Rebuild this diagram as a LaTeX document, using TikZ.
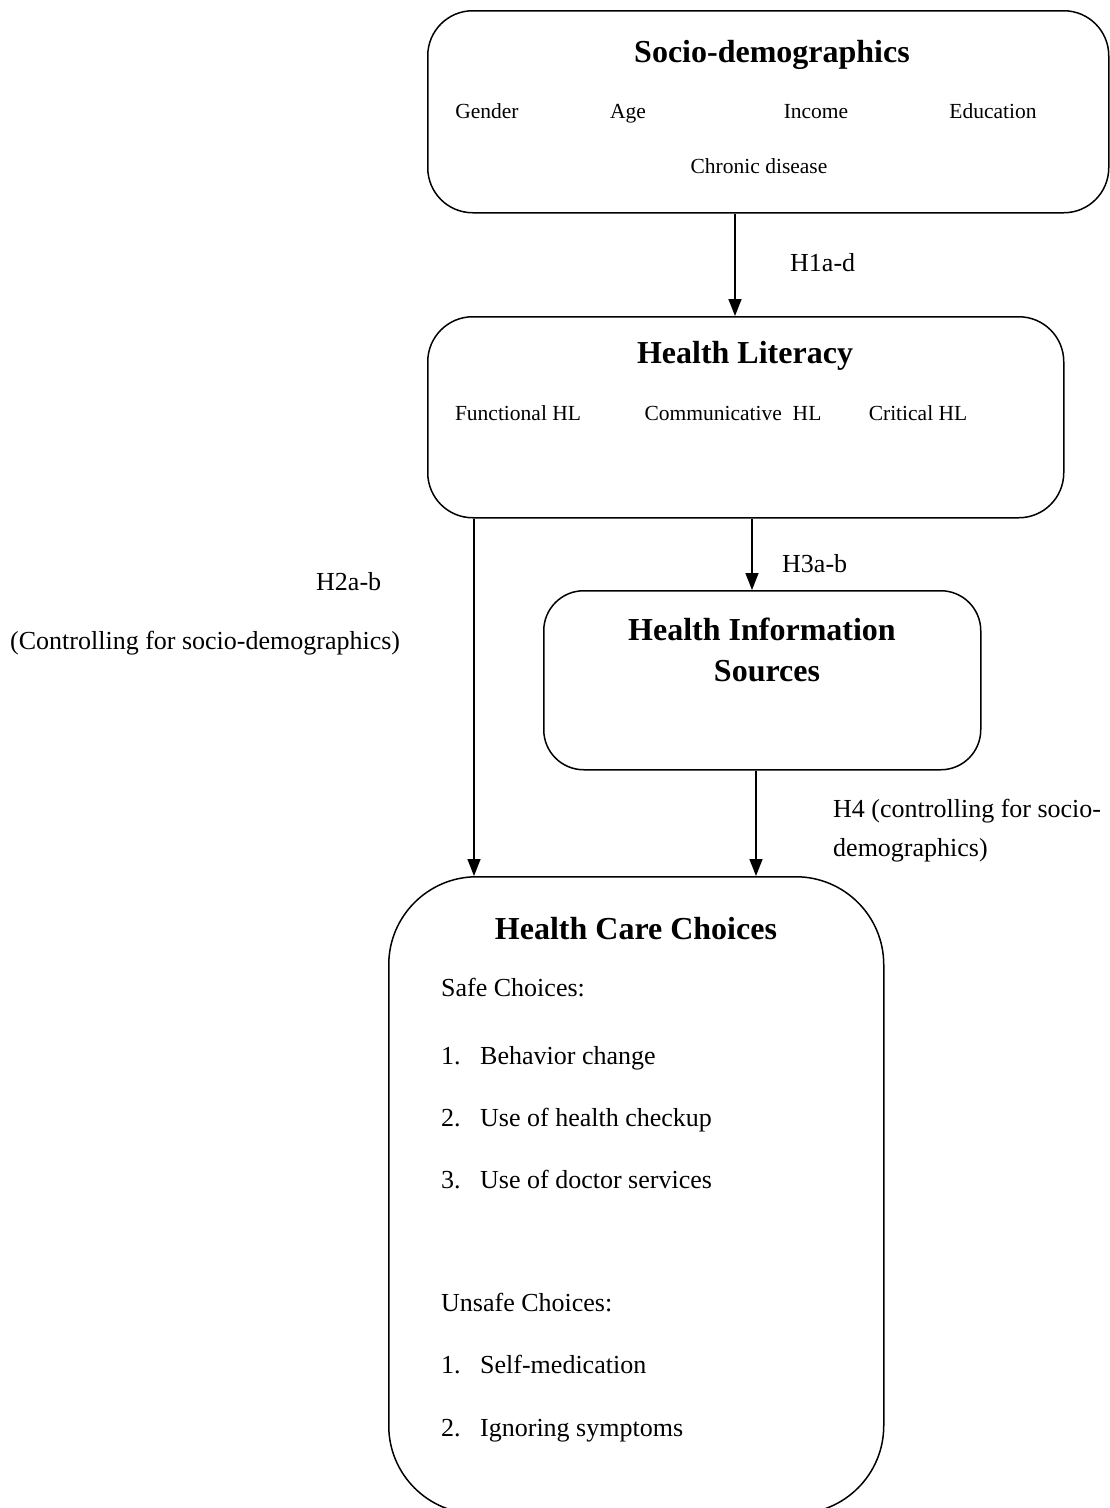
\documentclass[tikz,border=0pt]{standalone}
\usepackage{fontspec}
\setmainfont{Liberation Serif}
\usetikzlibrary{arrows.meta}
\tikzset{
  box/.style={draw, line width=1.5pt, inner sep=0pt, anchor=north west},
  arr/.style={line width=1.5pt, -{Triangle[width=13pt,length=17pt]}},
  ttl/.style={font=\fontsize{32}{41}\selectfont\bfseries, inner sep=0pt, text height=0.7em, text depth=0pt},
  itm/.style={font=\fontsize{21.5}{26}\selectfont, inner sep=0pt, text height=0.7em, text depth=0pt},
  lbl/.style={font=\fontsize{26}{39}\selectfont, inner sep=0pt, anchor=west, text height=0.7em, text depth=0pt},
  lst/.style={font=\fontsize{26}{30}\selectfont, inner sep=0pt, anchor=west, text height=0.7em, text depth=0pt},
}
\begin{document}
\begin{tikzpicture}[x=1pt, y=-1pt]
\useasboundingbox (0,0) rectangle (1110,1508);
\clip (0,0) rectangle (1110,1508);

% boxes
\node[box, rounded corners=45pt, minimum width=681pt, minimum height=202pt] (b1) at (427,10) {};
\node[box, rounded corners=45pt, minimum width=636pt, minimum height=201pt] (b2) at (427,316) {};
\node[box, rounded corners=40pt, minimum width=437pt, minimum height=179pt] (b3) at (543,590) {};
\node[box, rounded corners=88pt, minimum width=495pt, minimum height=637pt] (b4) at (388,876) {};

% box 1 text
\node[ttl] (t1) at (772,59) {Socio-demographics};
\node[itm] (g1) at (487,115) {Gender};
\node[itm] (g2) at (628,115) {Age};
\node[itm] (g3) at (816,115) {Income};
\node[itm] (g4) at (993,115) {Education};
\node[itm] (g5) at (759,170) {Chronic disease};

% box 2 text
\node[ttl] (t2) at (745,360) {Health Literacy};
\node[itm] (h1) at (518,417) {Functional HL};
\node[itm] (h2) at (733,417) {Communicative\ \ HL};
\node[itm] (h3) at (918,417) {Critical HL};

% box 3 text
\node[ttl] (t3a) at (762,637) {Health Information};
\node[ttl] (t3b) at (767,678) {Sources};

% box 4 text
\node[ttl] (t4) at (636,936) {Health Care Choices};
\node[lst] (s0) at (441,993) {Safe Choices:};
\node[lst] (s1n) at (441,1061) {1.};
\node[lst] (s1) at (480,1061) {Behavior change};
\node[lst] (s2n) at (441,1123) {2.};
\node[lst] (s2) at (480,1123) {Use of health checkup};
\node[lst] (s3n) at (441,1185) {3.};
\node[lst] (s3) at (480,1185) {Use of doctor services};
\node[lst] (u0) at (441,1308) {Unsafe Choices:};
\node[lst] (u1n) at (441,1370) {1.};
\node[lst] (u1) at (480,1370) {Self-medication};
\node[lst] (u2n) at (441,1433) {2.};
\node[lst] (u2) at (480,1433) {Ignoring symptoms};

% labels
\node[lbl] (l1) at (790,268) {H1a-d};
\node[lbl] (l3) at (782,569) {H3a-b};
\node[lbl] (l2a) at (316,587) {H2a-b};
\node[lbl] (l2b) at (10,646) {(Controlling for socio-demographics)};
\node[lbl] (l4a) at (833,814) {H4 (controlling for socio-};
\node[lbl] (l4b) at (833,853) {demographics)};

% connectors
\coordinate (xa) at (735,0);
\coordinate (xb) at (474,0);
\coordinate (xc) at (752,0);
\coordinate (xd) at (756,0);
\draw[arr] (xa |- b1.south) -- (xa |- b2.north);
\draw[arr] (xb |- b2.south) -- (xb |- b4.north);
\draw[arr] (xc |- b2.south) -- (xc |- b3.north);
\draw[arr] (xd |- b3.south) -- (xd |- b4.north);
\end{tikzpicture}
\end{document}
